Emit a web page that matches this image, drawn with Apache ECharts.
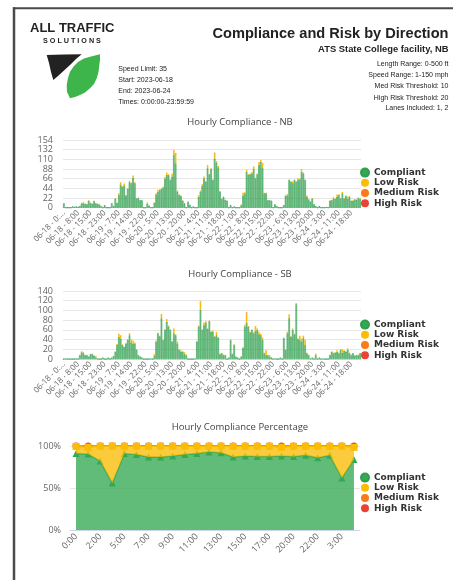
<!DOCTYPE html>
<html>
<head>
<meta charset="utf-8">
<script src="https://cdn.jsdelivr.net/npm/echarts@6/dist/echarts.min.js"></script>
<style>
html, body { margin: 0; padding: 0; background: #fff; }
#chart { width: 453px; height: 580px; }
</style>
</head>
<body>
<div id="chart"></div>
<script>
// ---- categories ----
const days = ['06-18', '06-19', '06-20', '06-21', '06-22', '06-23', '06-24']
const hours = ['0:00', '1:00', '2:00', '3:00', '4:00', '5:00', '6:00', '7:00', '8:00', '9:00', '10:00', '11:00',
  '12:00', '13:00', '14:00', '15:00', '16:00', '17:00', '18:00', '19:00', '20:00', '21:00', '22:00', '23:00']
// which hourly categories get a tick + label
const labelIdx = [0, 8, 15, 23, 31, 38, 46, 53, 61, 68, 76, 83, 90, 97, 104, 111, 118, 126, 133, 140, 147, 155, 162]
const pctHours = ['0:00', '1:00', '2:00', '4:00', '5:00', '6:00', '7:00', '8:00', '9:00', '10:00', '11:00', '12:00',
  '13:00', '14:00', '15:00', '16:00', '17:00', '19:00', '20:00', '21:00', '22:00', '23:00', '3:00', '4:00']

// ---- NB hourly counts (one row per day) ----
const nbCompliant = [
  10, 0, 0, 0, 0, 3, 2, 3, 2, 4, 10, 10, 9, 8, 16, 11, 9, 15, 10, 9, 7, 4, 0, 6,
  0, 0, 0, 10, 4, 21, 11, 29, 53, 48, 51, 28, 43, 58, 56, 68, 56, 21, 22, 17, 17, 0, 0, 9,
  5, 0, 0, 11, 30, 36, 40, 43, 46, 66, 75, 74, 63, 71, 120, 101, 37, 29, 27, 16, 10, 0, 13, 7,
  0, 3, 0, 0, 25, 37, 50, 67, 59, 90, 76, 88, 63, 112, 103, 92, 37, 20, 25, 18, 16, 0, 6, 0,
  3, 0, 0, 0, 6, 28, 33, 82, 75, 76, 78, 88, 67, 76, 97, 104, 90, 33, 33, 17, 17, 16, 0, 8,
  4, 0, 0, 0, 6, 27, 28, 63, 59, 56, 63, 59, 63, 65, 82, 78, 63, 25, 19, 14, 21, 8, 4, 0,
  4, 0, 0, 0, 2, 0, 16, 17, 21, 20, 25, 29, 21, 33, 21, 27, 21, 25, 16, 16, 19, 18, 22, 20
]
const nbLow = [
  0, 0, 0, 0, 0, 0, 0, 0, 0, 0, 0, 3, 0, 0, 1, 0, 0, 1, 0, 0, 2, 0, 0, 0,
  0, 0, 0, 1, 0, 1, 0, 4, 5, 1, 4, 0, 1, 3, 1, 5, 2, 0, 1, 0, 0, 0, 0, 3,
  0, 0, 0, 1, 3, 4, 2, 1, 2, 4, 5, 2, 1, 6, 10, 20, 2, 1, 0, 1, 0, 0, 1, 0,
  0, 0, 0, 0, 4, 2, 4, 4, 2, 7, 1, 2, 1, 11, 3, 3, 1, 1, 0, 0, 0, 0, 0, 0,
  0, 0, 0, 0, 1, 6, 2, 4, 1, 2, 3, 6, 1, 2, 6, 5, 11, 1, 1, 0, 0, 0, 0, 0,
  0, 0, 0, 0, 0, 2, 3, 1, 2, 4, 1, 1, 4, 1, 6, 2, 1, 3, 0, 0, 1, 0, 0, 0,
  0, 0, 0, 0, 0, 0, 1, 0, 3, 1, 5, 1, 0, 3, 1, 1, 4, 2, 0, 1, 0, 1, 1, 1
]
const nbMedium = [
  0, 0, 0, 0, 0, 0, 0, 0, 0, 0, 0, 0, 0, 0, 0, 0, 0, 0, 0, 0, 0, 0, 0, 0,
  0, 0, 0, 0, 0, 0, 0, 0, 0, 0, 0, 0, 0, 0, 0, 0, 0, 0, 0, 0, 0, 0, 0, 0,
  0, 0, 0, 0, 0, 0, 0, 0, 0, 0, 0, 0, 0, 0, 1, 2, 0, 0, 0, 0, 0, 0, 0, 0,
  0, 0, 0, 0, 0, 0, 0, 0, 0, 0, 0, 0, 0, 1, 0, 0, 0, 0, 0, 0, 0, 0, 0, 0,
  0, 0, 0, 0, 0, 0, 0, 0, 0, 0, 0, 0, 0, 0, 1, 0, 1, 0, 0, 0, 0, 0, 0, 0,
  0, 0, 0, 0, 0, 0, 0, 0, 0, 0, 0, 0, 0, 0, 0, 0, 0, 0, 0, 0, 0, 0, 0, 0,
  0, 0, 0, 0, 0, 0, 0, 0, 0, 0, 0, 0, 0, 0, 0, 0, 0, 0, 0, 0, 0, 0, 0, 0
]
const nbHigh = [
  0, 0, 0, 0, 0, 0, 0, 0, 0, 0, 0, 0, 0, 0, 0, 0, 0, 0, 0, 0, 0, 0, 0, 0,
  0, 0, 0, 0, 0, 0, 0, 0, 0, 0, 0, 0, 0, 0, 0, 0, 0, 0, 0, 0, 0, 0, 0, 0,
  0, 0, 0, 0, 0, 0, 0, 0, 0, 0, 0, 0, 0, 0, 0, 1, 0, 0, 0, 0, 0, 0, 0, 0,
  0, 0, 0, 0, 0, 0, 0, 0, 0, 0, 0, 0, 0, 1, 0, 0, 0, 0, 0, 0, 0, 0, 0, 0,
  0, 0, 0, 0, 0, 0, 0, 0, 0, 0, 0, 0, 0, 0, 0, 0, 0, 0, 0, 0, 0, 0, 0, 0,
  0, 0, 0, 0, 0, 0, 0, 0, 0, 0, 0, 0, 0, 0, 0, 0, 0, 0, 0, 0, 0, 0, 0, 0,
  0, 0, 0, 0, 0, 0, 0, 0, 0, 0, 0, 0, 0, 0, 0, 0, 0, 0, 0, 0, 0, 0, 0, 0
]

// ---- SB hourly counts ----
const sbCompliant = [
  0, 1, 0, 0, 0, 0, 0, 1, 0, 8, 14, 12, 8, 8, 5, 10, 10, 7, 3, 1, 0, 0, 3, 0,
  0, 3, 0, 3, 6, 15, 29, 46, 42, 29, 25, 32, 39, 49, 34, 32, 32, 19, 8, 5, 3, 0, 0, 0,
  0, 1, 0, 6, 36, 53, 47, 84, 39, 60, 77, 67, 60, 36, 53, 49, 32, 19, 15, 15, 10, 8, 0, 0,
  0, 0, 1, 36, 67, 101, 60, 70, 75, 62, 78, 56, 56, 46, 49, 44, 10, 12, 8, 8, 0, 3, 39, 10,
  29, 5, 3, 0, 5, 23, 67, 75, 67, 55, 60, 53, 58, 60, 51, 49, 39, 12, 8, 8, 5, 3, 0, 1,
  0, 0, 3, 0, 43, 19, 53, 84, 46, 60, 51, 113, 41, 39, 36, 43, 29, 12, 8, 1, 3, 0, 8, 0,
  3, 0, 1, 0, 0, 0, 8, 15, 12, 13, 15, 12, 19, 13, 17, 15, 19, 12, 8, 12, 7, 8, 8, 12
]
const sbLow = [
  0, 0, 0, 0, 0, 0, 0, 0, 0, 0, 2, 2, 0, 0, 0, 0, 1, 0, 3, 0, 0, 0, 0, 0,
  0, 0, 0, 0, 0, 1, 2, 6, 7, 1, 0, 1, 2, 4, 6, 6, 2, 1, 0, 0, 0, 0, 0, 0,
  0, 0, 0, 4, 2, 1, 1, 9, 1, 2, 5, 2, 1, 1, 10, 2, 4, 1, 3, 1, 4, 1, 0, 0,
  0, 0, 0, 1, 2, 17, 1, 5, 3, 1, 1, 1, 3, 1, 7, 1, 1, 0, 1, 0, 0, 0, 1, 1,
  1, 0, 0, 0, 1, 1, 3, 19, 1, 1, 1, 2, 10, 3, 5, 3, 5, 1, 9, 1, 3, 0, 0, 0,
  0, 0, 0, 0, 1, 1, 3, 8, 1, 3, 1, 2, 1, 9, 6, 5, 10, 1, 1, 0, 0, 0, 3, 0,
  0, 0, 0, 0, 0, 0, 1, 1, 1, 1, 3, 1, 1, 7, 1, 1, 3, 1, 1, 0, 1, 0, 1, 0
]
const sbMedium = [
  0, 0, 0, 0, 0, 0, 0, 0, 0, 0, 0, 0, 0, 0, 0, 0, 0, 0, 0, 0, 0, 0, 0, 0,
  0, 0, 0, 0, 0, 0, 0, 0, 0, 0, 0, 0, 0, 0, 0, 0, 0, 0, 0, 0, 0, 0, 0, 0,
  0, 0, 0, 0, 0, 0, 0, 0, 0, 0, 0, 0, 0, 0, 0, 0, 0, 0, 0, 0, 0, 0, 0, 0,
  0, 0, 0, 0, 0, 1, 0, 0, 0, 0, 0, 0, 0, 0, 0, 0, 0, 0, 0, 0, 0, 0, 0, 0,
  0, 0, 0, 0, 0, 0, 0, 1, 0, 0, 0, 0, 0, 0, 0, 0, 0, 0, 1, 0, 0, 0, 0, 0,
  0, 0, 0, 0, 0, 0, 0, 0, 0, 0, 0, 0, 0, 0, 0, 0, 0, 0, 0, 0, 0, 0, 0, 0,
  0, 0, 0, 0, 0, 0, 0, 0, 0, 0, 0, 0, 0, 0, 0, 0, 0, 0, 0, 0, 0, 0, 0, 0
]
const sbHigh = [
  0, 0, 0, 0, 0, 0, 0, 0, 0, 0, 0, 0, 0, 0, 0, 0, 0, 0, 0, 0, 0, 0, 0, 0,
  0, 0, 0, 0, 0, 0, 0, 0, 0, 0, 0, 0, 0, 0, 0, 0, 0, 0, 0, 0, 0, 0, 0, 0,
  0, 0, 0, 0, 0, 0, 0, 0, 0, 0, 0, 0, 0, 0, 0, 0, 0, 0, 0, 0, 0, 0, 0, 0,
  0, 0, 0, 0, 0, 0, 0, 0, 0, 0, 0, 0, 0, 0, 0, 0, 0, 0, 0, 0, 0, 0, 0, 0,
  0, 0, 0, 0, 0, 0, 0, 1, 0, 0, 0, 0, 0, 0, 0, 0, 0, 0, 0, 0, 0, 0, 0, 0,
  0, 0, 0, 0, 0, 0, 0, 0, 0, 0, 0, 0, 0, 0, 0, 0, 0, 0, 0, 0, 0, 0, 0, 0,
  0, 0, 0, 0, 0, 0, 0, 0, 0, 0, 0, 0, 0, 0, 0, 0, 0, 0, 0, 0, 0, 0, 0, 0
]

// ---- hourly compliance percentage ----
const pctCompliant = [91, 90.5, 82, 56, 91, 90, 87, 87, 88, 90, 91, 93, 92, 87, 88, 87.5, 87.5, 88, 87.5, 89, 86, 89, 62, 84]
const pctLow = [8.5, 8.0, 17.8, 44, 8.8, 9.8, 12.6, 12.8, 11.8, 9.7, 8.8, 6.8, 7.8, 12.6, 11.8, 12.2, 12.3, 10.5, 12.2, 10.8, 13.8, 10.6, 37.8, 14.4]
const pctMedium = [0.3, 0.5, 0.2, 0, 0.2, 0.2, 0.3, 0.2, 0.2, 0.2, 0.2, 0.2, 0.2, 0.3, 0.2, 0.3, 0.2, 0.6, 0.2, 0.2, 0.2, 0.3, 0.2, 0.6]
const pctHigh = [0.2, 1.0, 0, 0, 0, 0, 0.1, 0, 0, 0.1, 0, 0, 0, 0.1, 0, 0, 0, 0.9, 0.1, 0, 0, 0.1, 0, 1.0]

const names = ['Compliant', 'Low Risk', 'Medium Risk', 'High Risk']
const colors = ['#34a853', '#fbbc04', '#fa7b17', '#ea4335']

const hourCats = days.flatMap(d => hours.map(h => d + ' - ' + h))

const FONT = '"Open Sans", sans-serif'
const HEAD = '"Liberation Sans", Arial, sans-serif'
const axisGray = '#666'
const lineGray = '#ccd6eb'

const chart = echarts.init(document.getElementById('chart'))

function hourAxis(gi) {
  return {
    type: 'category',
    gridIndex: gi,
    data: hourCats,
    axisLine: { lineStyle: { color: lineGray } },
    axisTick: { lineStyle: { color: lineGray }, length: 5, interval: (i) => labelIdx.includes(i) },
    axisLabel: {
      rotate: 45,
      fontSize: 8,
      fontFamily: FONT,
      color: axisGray,
      margin: 4,
      interval: (i) => labelIdx.includes(i),
      // first label is clipped in the original
      formatter: (v, i) => i === 0 ? v.slice(0, 10) + '...' : v,
    },
  }
}

function countAxis(gi, max, step) {
  return {
    type: 'value',
    gridIndex: gi,
    min: 0,
    max,
    interval: step,
    axisLabel: { fontSize: 9, fontFamily: FONT, color: axisGray, margin: 10 },
    splitLine: { lineStyle: { color: '#e6e6e6' } },
  }
}

function barSet(gi, stack, data) {
  return data.map((d, k) => ({
    name: names[k],
    type: 'bar',
    stack,
    xAxisIndex: gi,
    yAxisIndex: gi,
    barCategoryGap: '12%',
    data: d,
    itemStyle: k === 0
      ? { color: 'rgba(52,168,83,0.55)', borderColor: '#2f9e4e', borderWidth: 0.6 }
      : { color: colors[k] },
  }))
}

function legendAt(top) {
  return {
    orient: 'vertical',
    left: 360,
    top,
    padding: 0,
    icon: 'circle',
    itemWidth: 8,
    itemHeight: 8,
    itemGap: 0,
    textStyle: { fontFamily: '"DejaVu Sans", sans-serif', fontWeight: 'bold', fontSize: 9, color: '#333', lineHeight: 10.2 },
    data: names.map((n, k) => ({ name: n, itemStyle: { color: colors[k] } })),
  }
}

const pctSymbols = ['triangle', 'rect', 'none', 'circle']
const pctZ = [4, 5, 2, 3]
const pctSeries = [pctCompliant, pctLow, pctMedium, pctHigh].map((d, k) => ({
  name: names[k],
  type: 'line',
  stack: 'pct',
  xAxisIndex: 2,
  yAxisIndex: 2,
  data: d,
  z: pctZ[k],
  symbol: pctSymbols[k],
  symbolSize: 7,
  showAllSymbol: true,
  lineStyle: { width: 1.5, color: colors[k] },
  itemStyle: { color: colors[k] },
  areaStyle: { color: colors[k], opacity: 0.78 },
}))

function headText(x, y, text, size, align, weight) {
  return {
    type: 'text', x, y,
    style: {
      text, fontSize: size, fontFamily: HEAD, fontWeight: weight || 'normal',
      fill: '#222', align: align || 'left', verticalAlign: 'middle',
    },
  }
}

function chartTitle(y, text) {
  return {
    type: 'text', x: 240, y,
    style: { text, fontSize: 9.5, fontFamily: FONT, fill: '#444', align: 'center', verticalAlign: 'middle' },
  }
}

chart.setOption({
  animation: false,
  backgroundColor: '#fff',
  grid: [
    { left: 63, right: 92, top: 140, bottom: 372.3 },
    { left: 63, right: 92, top: 291, bottom: 221 },
    { left: 70, right: 93, top: 446, bottom: 50 },
  ],
  legend: [legendAt(167.5), legendAt(319.5), legendAt(472.5)],
  xAxis: [
    hourAxis(0),
    hourAxis(1),
    {
      type: 'category',
      gridIndex: 2,
      data: pctHours,
      axisLine: { lineStyle: { color: lineGray } },
      axisTick: { lineStyle: { color: lineGray }, length: 5, interval: 1, alignWithLabel: true },
      axisLabel: { rotate: 45, fontSize: 9, fontFamily: FONT, color: axisGray, margin: 5, interval: 1 },
    },
  ],
  yAxis: [
    countAxis(0, 154, 22),
    countAxis(1, 140, 20),
    {
      type: 'value',
      gridIndex: 2,
      min: 0,
      max: 100,
      interval: 50,
      axisLabel: { fontSize: 9, fontFamily: FONT, color: axisGray, margin: 9, formatter: '{value}%' },
      splitLine: { lineStyle: { color: '#e6e6e6' } },
    },
  ],
  series: [
    ...barSet(0, 'nb', [nbCompliant, nbLow, nbMedium, nbHigh]),
    ...barSet(1, 'sb', [sbCompliant, sbLow, sbMedium, sbHigh]),
    ...pctSeries,
  ],
  graphic: [
    // page frame
    { type: 'line', shape: { x1: 13, y1: 8.3, x2: 453, y2: 8.3 }, style: { stroke: '#4a4a4a', lineWidth: 2 } },
    { type: 'line', shape: { x1: 14, y1: 7.3, x2: 14, y2: 580 }, style: { stroke: '#4a4a4a', lineWidth: 2.5 } },
    // logo
    headText(30, 28.5, 'ALL TRAFFIC', 13, 'left', 900),
    headText(43, 40.8, 'S O L U T I O N S', 7.2, 'left', 'bold'),
    {
      type: 'polygon',
      shape: { points: [[46.7, 55], [64, 54.6], [81.7, 54.3], [76, 59], [70, 65], [64, 70.5], [58, 76], [53.3, 80],
        [51, 72], [49, 63]] },
      style: { fill: '#222' },
    },
    {
      type: 'polygon',
      shape: { points: [[70, 98.3], [67, 92], [66.7, 85], [68, 78], [70, 71.7], [74, 66], [78.3, 61.7], [84, 58.5],
        [90, 56.7], [100, 54.3], [100, 60], [99.3, 65], [98.5, 72], [96.7, 78.3], [94, 84], [90, 88.3], [85, 92.5],
        [80, 95], [75, 97]] },
      style: { fill: '#3db54a' },
    },
    // report details
    headText(118.3, 69.3, 'Speed Limit: 35', 7),
    headText(118.3, 80.3, 'Start: 2023-06-18', 7),
    headText(118.3, 91.3, 'End: 2023-06-24', 7),
    headText(118.3, 102.5, 'Times: 0:00:00-23:59:59', 7),
    headText(448.5, 33.5, 'Compliance and Risk by Direction', 14.6, 'right', 'bold'),
    headText(448.5, 49, 'ATS State College facility, NB', 9.4, 'right', 'bold'),
    headText(448.5, 64.5, 'Length Range: 0-500 ft', 7, 'right'),
    headText(448.5, 75.5, 'Speed Range: 1-150 mph', 7, 'right'),
    headText(448.5, 86.5, 'Med Risk Threshold: 10', 7, 'right'),
    headText(448.5, 97.7, 'High Risk Threshold: 20', 7, 'right'),
    headText(448.5, 108.5, 'Lanes Included: 1, 2', 7, 'right'),
    // chart titles
    chartTitle(122.3, 'Hourly Compliance - NB'),
    chartTitle(274, 'Hourly Compliance - SB'),
    chartTitle(427.7, 'Hourly Compliance Percentage'),
  ],
})
</script>
</body>
</html>
